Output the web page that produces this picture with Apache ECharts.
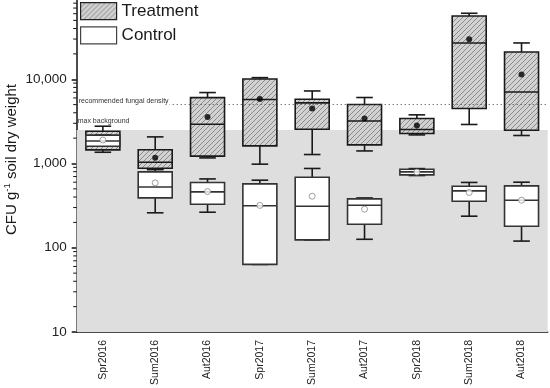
<!DOCTYPE html>
<html><head><meta charset="utf-8">
<script src="https://cdn.jsdelivr.net/npm/echarts@6/dist/echarts.min.js"></script>
<style>html,body{margin:0;padding:0;background:#fff}#c{width:550px;height:388px}</style>
</head><body><div id="c"></div>
<script>
const categories = ['Spr2016','Sum2016','Aut2016','Spr2017','Sum2017','Aut2017','Spr2018','Sum2018','Aut2018'];
// Treatment
const tMin = [1360, 850, 1165, 982, 1278, 1410, 2185, 2905, 2150];
const tQ1  = [1450, 880, 1222, 1617, 2550, 1664, 2270, 4490, 2485];
const tMed = [1890, 1036, 2925, 5740, 5240, 3200, 2530, 26960, 7060];
const tQ3  = [2416, 1458, 6060, 10060, 5800, 5010, 3420, 56400, 21100];
const tMax = [2770, 2070, 6950, 10450, 7260, 6070, 3780, 60700, 26960];
const tMean = [1925, 1171, 3570, 5820, 4490, 3420, 2825, 29800, 11380];
// Control
const cMin = [1605, 260, 264, 63.4, 124, 126, 720, 237, 120];
const cQ1  = [1605, 391, 328, 63.4, 124, 190, 732, 357, 180];
const cMed = [1850, 527, 460, 315, 311, 320, 795, 473, 367];
const cQ3  = [2170, 795, 595, 573, 688, 380, 856, 538, 542];
const cMax = [2170, 850, 656, 634, 873, 390, 870, 596, 600];
const cMean = [1900, 589, 465, 318, 409, 287, 790, 453, 367];
// reference levels
const maxBackground = 2500;
const recommendedDensity = 5000;
const yTickLabels = [10, 100, 1000, 10000];
const minorTickValues = [20,30,40,50,60,70,80,90,200,300,400,500,600,700,800,900,2000,3000,4000,5000,6000,7000,8000,9000,20000,30000,40000,50000,60000,70000,80000,90000];

// hatch pattern
const tile = document.createElement('canvas');
tile.width = 5; tile.height = 5;
(function(){
  const g = tile.getContext('2d');
  g.fillStyle = '#d2d2d2'; g.fillRect(0,0,5,5);
  g.strokeStyle = '#8a8a8a'; g.lineWidth = 1;
  g.beginPath();
  g.moveTo(-1,6); g.lineTo(6,-1);
  g.moveTo(-1,1); g.lineTo(1,-1);
  g.moveTo(4,6); g.lineTo(6,4);
  g.stroke();
})();
const hatch = {image: tile, repeat: 'repeat'};

function makeRender(fill, boxStroke) {
  return function (params, api) {
    const i = api.value(0);
    const pMin = api.coord([i, api.value(1)]);
    const pQ1 = api.coord([i, api.value(2)]);
    const pMed = api.coord([i, api.value(3)]);
    const pQ3 = api.coord([i, api.value(4)]);
    const pMax = api.coord([i, api.value(5)]);
    const cx = pMed[0], hw = 17, cw = 8.3;
    const ws = {stroke: '#1a1a1a', lineWidth: 1.6};
    return {type: 'group', children: [
      {type: 'line', shape: {x1: cx, y1: pQ3[1], x2: cx, y2: pMax[1]}, style: ws},
      {type: 'line', shape: {x1: cx - cw, y1: pMax[1], x2: cx + cw, y2: pMax[1]}, style: ws},
      {type: 'line', shape: {x1: cx, y1: pQ1[1], x2: cx, y2: pMin[1]}, style: ws},
      {type: 'line', shape: {x1: cx - cw, y1: pMin[1], x2: cx + cw, y2: pMin[1]}, style: ws},
      {type: 'rect', shape: {x: cx - hw, y: pQ3[1], width: 2 * hw, height: pQ1[1] - pQ3[1]}, style: {fill: fill, stroke: boxStroke, lineWidth: 1.6}},
      {type: 'line', shape: {x1: cx - hw, y1: pMed[1], x2: cx + hw, y2: pMed[1]}, style: {stroke: boxStroke, lineWidth: 1.6}}
    ]};
  };
}

const tData = categories.map((c, i) => [i, tMin[i], tQ1[i], tMed[i], tQ3[i], tMax[i]]);
const cData = categories.map((c, i) => [i, cMin[i], cQ1[i], cMed[i], cQ3[i], cMax[i]]);

const chart = echarts.init(document.getElementById('c'), null, {renderer: 'canvas'});
const FONT = 'Liberation Sans, Arial, sans-serif';
chart.setOption({
  animation: false,
  textStyle: {fontFamily: FONT},
  grid: {left: 76.7, right: 2.3, top: -5, bottom: 56, containLabel: false, outerBoundsMode: 'none'},
  legend: {
    orient: 'vertical', left: 80, top: 2, padding: 0, itemGap: 6,
    itemWidth: 36, itemHeight: 17,
    textStyle: {fontSize: 17, color: '#1a1a1a', fontFamily: FONT},
    data: [
      {name: 'Treatment', icon: 'rect', itemStyle: {color: hatch, borderColor: '#222', borderWidth: 1.2}},
      {name: 'Control', icon: 'rect', itemStyle: {color: '#fff', borderColor: '#444', borderWidth: 1.2}}
    ]
  },
  xAxis: {
    type: 'category', data: categories, boundaryGap: true,
    axisLine: {lineStyle: {color: '#111', width: 1.5}},
    axisTick: {alignWithLabel: true, length: 5, lineStyle: {color: '#111', width: 1.5}},
    axisLabel: {rotate: 90, fontSize: 10.5, color: '#222', margin: 8, fontFamily: FONT},
    splitLine: {show: false}
  },
  yAxis: {
    type: 'log', logBase: 10, min: 10, max: 100000,
    name: 'CFU g{sup|-1} soil dry weight', nameLocation: 'middle', nameGap: 56, nameMoveOverlap: false,
    nameTextStyle: {fontSize: 15, color: '#1a1a1a', fontFamily: FONT, padding: [0, 0, 0, 8],
      rich: {sup: {fontSize: 9.5, verticalAlign: 'top', padding: [0, 0, 8, 0], color: '#1a1a1a'}}},
    axisLine: {show: true, lineStyle: {color: '#111', width: 1.5}},
    axisTick: {show: true, length: 5, lineStyle: {color: '#111', width: 1.5}},
    axisLabel: {fontSize: 13.5, color: '#222', margin: 10, fontFamily: FONT,
      formatter: function (v) {
        const hit = yTickLabels.find(t => Math.abs(t - v) / t < 1e-6);
        return hit ? hit.toLocaleString('en-US') : '';
      }},
    splitLine: {show: false}
  },
  series: [
    {
      type: 'line', data: [], z: 1, silent: true,
      markArea: {
        silent: true,
        itemStyle: {color: '#dedede'},
        label: {show: true, position: [1, -12], formatter: 'max background', fontSize: 7, color: '#333', fontFamily: FONT},
        data: [[{yAxis: 10}, {yAxis: maxBackground}]]
      },
      markLine: {
        silent: true, symbol: 'none',
        lineStyle: {color: '#444', width: 1, type: [1, 3]},
        label: {show: true, position: 'insideStartTop', formatter: 'recommended fungal density', fontSize: 7, color: '#333', fontFamily: FONT,
          distance: [2, -1], backgroundColor: '#fff', padding: [0, 1, 1, 0]},
        data: [{yAxis: recommendedDensity}]
      }
    },
    {
      type: 'custom', name: 'Minor', silent: true, z: 2,
      renderItem: function (params, api) {
        const p = api.coord([0, api.value(0)]);
        const x = params.coordSys.x;
        return {type: 'line', shape: {x1: x - 3.5, y1: p[1], x2: x, y2: p[1]}, style: {stroke: '#111', lineWidth: 1}};
      },
      encode: {y: 0},
      data: minorTickValues.map(v => [v]),
      clip: false
    },
    {
      type: 'custom', name: 'Treatment', z: 3,
      itemStyle: {color: hatch, borderColor: '#222', borderWidth: 1.2},
      renderItem: makeRender(hatch, '#1a1a1a'),
      encode: {x: 0, y: [1, 2, 3, 4, 5]},
      data: tData
    },
    {
      type: 'scatter', name: 'TreatmentMean', z: 4, symbol: 'circle', symbolSize: 6,
      itemStyle: {color: '#000'},
      data: categories.map((c, i) => [c, tMean[i]])
    },
    {
      type: 'custom', name: 'Control', z: 5,
      itemStyle: {color: '#fff', borderColor: '#444', borderWidth: 1.2},
      renderItem: makeRender('#fff', '#333'),
      encode: {x: 0, y: [1, 2, 3, 4, 5]},
      data: cData
    },
    {
      type: 'scatter', name: 'ControlMean', z: 6, symbol: 'circle', symbolSize: 6,
      itemStyle: {color: '#fff', borderColor: '#888', borderWidth: 1},
      data: categories.map((c, i) => [c, cMean[i]])
    }
  ]
});
</script></body></html>
